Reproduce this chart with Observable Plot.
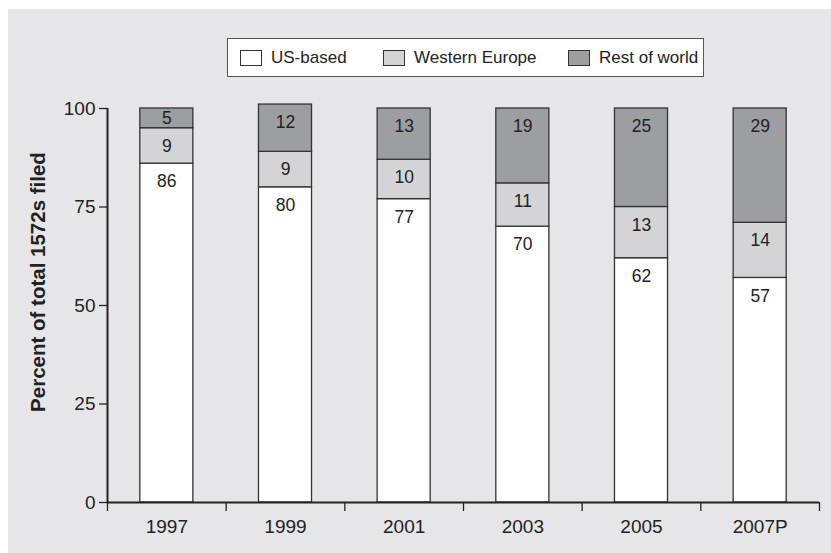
<!DOCTYPE html>
<html><head><meta charset="utf-8">
<script src="https://cdn.jsdelivr.net/npm/d3@7"></script>
<script src="https://cdn.jsdelivr.net/npm/@observablehq/plot@0.6"></script>
<style>
body{margin:0;background:#fff;font-family:"Liberation Sans",Arial,sans-serif;}
#wrap{position:relative;width:831px;height:553px;overflow:hidden;}
#panel{position:absolute;left:8px;top:9px;right:0;bottom:0;background:#e6e6e8;}
#legend{position:absolute;left:227px;top:38px;width:477px;height:39px;background:#fff;border:1.3px solid #555;box-sizing:border-box;}
.item{position:absolute;top:0;height:100%;display:flex;align-items:center;font-size:17px;color:#222;white-space:nowrap;}
.sw{width:22px;height:16px;border:1.3px solid #333;box-sizing:border-box;margin-right:9px;}
#chart{position:absolute;left:0;top:90px;}
</style></head><body>
<div id="wrap"><div id="panel"></div><div id="legend"></div><div id="chart"></div></div>
<script>
const years = ["1997","1999","2001","2003","2005","2007P"];
const usBased = [86,80,77,70,62,57];
const westernEurope = [9,9,10,11,13,14];
const restOfWorld = [5,12,13,19,25,29];
const seriesNames = ["US-based","Western Europe","Rest of world"];
const seriesColors = ["#ffffff","#d4d4d6","#9d9ea1"];
const yTicks = [0,25,50,75,100];
const yLabel = "Percent of total 1572s filed";

const series = [usBased, westernEurope, restOfWorld];
const rows = [];
years.forEach((yr, i) => {
  let base = 0;
  series.forEach((vals, s) => {
    rows.push({i, year: yr, series: seriesNames[s], value: vals[i], y1: base, y2: base + vals[i]});
    base += vals[i];
  });
});

// legend
const legendOffsets = [12, 155, 340];
const legend = document.getElementById("legend");
seriesNames.forEach((n, k) => {
  const it = document.createElement("div");
  it.className = "item";
  it.style.left = legendOffsets[k] + "px";
  it.innerHTML = `<div class="sw" style="background:${seriesColors[k]}"></div><span>${n}</span>`;
  legend.appendChild(it);
});

const half = 0.2235;
const chart = Plot.plot({
  width: 831,
  height: 463,
  marginLeft: 107,
  marginRight: 12,
  marginTop: 18,
  marginBottom: 51,
  style: {background: "transparent", fontFamily: "'Liberation Sans', Arial, sans-serif", overflow: "visible", color: "#222"},
  x: {type: "linear", domain: [0, years.length], axis: null},
  y: {domain: [0, 100], axis: null},
  color: {domain: seriesNames, range: seriesColors},
  marks: [
    Plot.rectY(rows, {x1: d => d.i + 0.5 - half, x2: d => d.i + 0.5 + half, y1: "y1", y2: "y2", fill: "series", stroke: "#333", strokeWidth: 1.3}),
    Plot.text(rows, {x: d => d.i + 0.5, y: d => d.y2 - Math.min(4.6, d.value / 2), text: d => String(d.value), fontSize: 17.5, fill: "#222"}),
    Plot.ruleY([0], {stroke: "#222", strokeWidth: 2}),
    Plot.ruleX([0], {y1: 0, y2: 100, stroke: "#222", strokeWidth: 2}),
    Plot.axisY({ticks: yTicks, tickSize: 8, tickPadding: 4, fontSize: 19, label: null, stroke: "#222", strokeWidth: 1.3}),
    Plot.axisX({ticks: d3.range(years.length + 1), tickSize: 9, tickFormat: () => "", label: null, stroke: "#222", strokeWidth: 1.3}),
    Plot.text(years, {x: (d, i) => i + 0.5, frameAnchor: "bottom", dy: 30, fontSize: 19, fill: "#222"}),
    Plot.text([yLabel], {frameAnchor: "left", textAnchor: "middle", rotate: -90, dx: -69, dy: -23.5, fontWeight: "bold", fontSize: 20.5, fill: "#222"})
  ]
});
document.getElementById("chart").appendChild(chart);
</script>
</body></html>
